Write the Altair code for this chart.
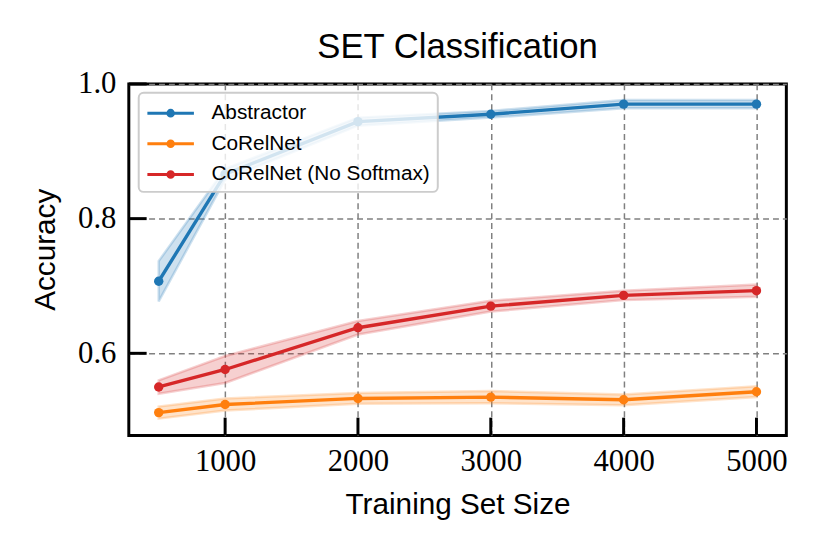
import altair as alt
import pandas as pd

# ---- data ----
sizes = [500, 1000, 2000, 3000, 4000, 5000]
series_names = ["Abstractor", "CoRelNet", "CoRelNet (No Softmax)"]
series_colors = ["#1f77b4", "#ff7f0e", "#d62728"]

abstractor = [0.707, 0.866, 0.944, 0.955, 0.970, 0.970]
abstractor_err = [0.030, 0.008, 0.006, 0.005, 0.006, 0.006]

corelnet = [0.512, 0.524, 0.533, 0.535, 0.531, 0.543]
corelnet_err = [0.009, 0.009, 0.008, 0.009, 0.008, 0.008]

nosoftmax = [0.550, 0.576, 0.638, 0.670, 0.686, 0.693]
nosoftmax_err = [0.010, 0.020, 0.010, 0.008, 0.007, 0.009]

x_ticks = [1000, 2000, 3000, 4000, 5000]
y_ticks = [0.6, 0.8, 1.0]

rows = []
for name, vals, errs in [
    (series_names[0], abstractor, abstractor_err),
    (series_names[1], corelnet, corelnet_err),
    (series_names[2], nosoftmax, nosoftmax_err),
]:
    for s, v, e in zip(sizes, vals, errs):
        rows.append({"series": name, "grp": name, "size": s,
                     "acc": v, "lo": v - e, "hi": v + e})
df = pd.DataFrame(rows)

W, H = 664, 355
xscale = alt.Scale(domain=[275, 5225], nice=False, zero=False)
yscale = alt.Scale(domain=[0.478, 1.0], nice=False, zero=False)

x_axis = alt.Axis(values=x_ticks, format="d", title="Training Set Size",
                  labelPadding=11, titleBaseline="alphabetic", titleY=79)
y_axis = alt.Axis(values=y_ticks, format=".1f", title="Accuracy",
                  labelPadding=13, titleBaseline="alphabetic", titleX=-75,
                  titleY=167, titleAngle=270, titleAlign="center")

base = alt.Chart(df)

# bands and dots use a copy of the series field so their (hidden) legends
# are not merged with the visible colour legend of the lines
bands = base.mark_area(fillOpacity=0.22, strokeOpacity=0.22, strokeWidth=2.5).encode(
    x=alt.X("size:Q", scale=xscale, axis=x_axis),
    y=alt.Y("lo:Q", scale=yscale, axis=y_axis),
    y2="hi:Q",
    fill=alt.Fill("grp:N", scale=alt.Scale(range=series_colors), legend=None),
    stroke=alt.Stroke("grp:N", scale=alt.Scale(range=series_colors), legend=None),
    detail="grp:N",
)

# legend glyph: a line with a dot in its middle (drawn to the right of the
# symbol column, hence the larger labelOffset)
legend_path = ("M-1,0H3"
               "M0.76,0A0.24,0.24,0,1,0,1.24,0A0.24,0.24,0,1,0,0.76,0"
               "M0.9,0A0.1,0.1,0,1,0,1.1,0A0.1,0.1,0,1,0,0.9,0")

lines = base.mark_line(strokeWidth=3.4).encode(
    x="size:Q",
    y="acc:Q",
    color=alt.Color("series:N",
                    scale=alt.Scale(domain=series_names, range=series_colors),
                    legend=alt.Legend(title=None, orient="none", legendX=10, legendY=9,
                                      symbolType=legend_path, symbolSize=552,
                                      symbolStrokeWidth=3, labelOffset=39.5,
                                      labelLimit=400)),
)

points = base.mark_point(filled=True, size=90, opacity=1).encode(
    x="size:Q",
    y="acc:Q",
    fill=alt.Fill("grp:N", scale=alt.Scale(range=series_colors), legend=None),
)

xtick_df = pd.DataFrame({"t": x_ticks})
ytick_df = pd.DataFrame({"t": y_ticks})

xticks = alt.Chart(xtick_df).mark_tick(orient="vertical", size=18, thickness=3,
                                       color="black", opacity=1).encode(
    x=alt.X("t:Q", scale=xscale), y=alt.value(H - 9))
yticks = alt.Chart(ytick_df).mark_tick(orient="horizontal", size=18, thickness=3,
                                       color="black", opacity=1).encode(
    y=alt.Y("t:Q", scale=yscale), x=alt.value(9))

chart = alt.layer(bands, lines, points, xticks, yticks).properties(
    width=W, height=H,
    background="white",
    title=alt.Title("SET Classification", font="Liberation Sans", fontSize=35,
                    fontWeight="normal", color="black", anchor="middle",
                    baseline="alphabetic", offset=7, dy=32),
    autosize=alt.AutoSizeParams(type="none"),
    padding={"left": 122, "top": 74, "right": 36, "bottom": 117},
).configure_view(
    stroke="black", strokeWidth=3
).configure_axis(
    grid=True, gridDash=[6, 4], gridColor="#808080", gridWidth=1.5, gridOpacity=1,
    domain=False, ticks=False, tickSize=0,
    labelFont="Liberation Serif", labelFontSize=31, labelColor="black",
    titleFont="Liberation Sans", titleFontSize=30, titleFontWeight="normal",
    titleColor="black",
).configure_legend(
    labelFont="Liberation Sans", labelFontSize=21, labelColor="black",
    padding=7, rowPadding=7, fillColor="rgba(255,255,255,0.8)",
    strokeColor="#cccccc", cornerRadius=5, strokeWidth=2,
)

chart.save("out.html", embed_options={"renderer": "svg", "actions": False})
